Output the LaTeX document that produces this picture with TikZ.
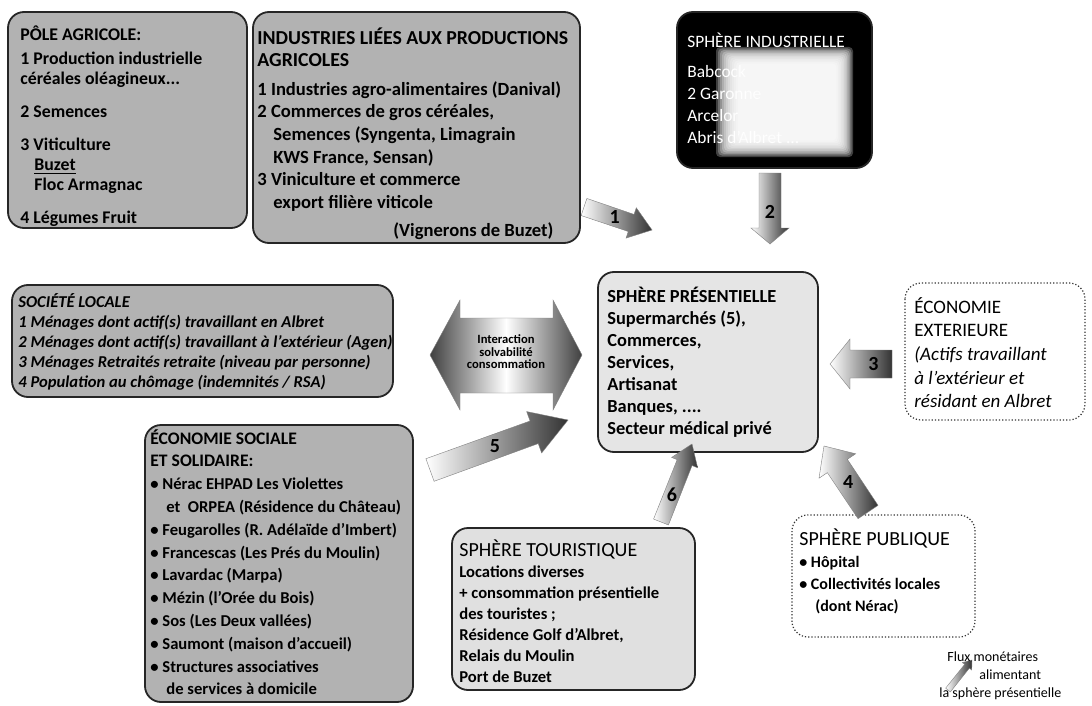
\documentclass[tikz,border=0pt]{standalone}
\usepackage{fontspec}
\setmainfont{Carlito}
\usetikzlibrary{calc}

\tikzset{
  boite/.style={draw=black!85, line width=0.9pt, rounded corners=8pt, fill=black!30},
  boiteblanche/.style={draw=black!80, densely dotted, line width=0.6pt, rounded corners=8pt, fill=white},
  texte/.style={anchor=north west, inner sep=0pt, align=left, font=\bfseries\fontsize{9.2}{11}\selectfont},
  fluxfond/.style={draw=black!50, very thin, left color=white, right color=black!80},
  numflux/.style={inner sep=0pt, font=\bfseries\fontsize{10}{10}\selectfont},
}

% fleche de flux : nom, queue, pointe, demi-largeurs tige/tete, longueur tete, position du numero
\def\flux[#1](#2)(#3)(#4:#5:#6)(#7)#8{%
  \coordinate (#1q) at (#2);
  \coordinate (#1p) at (#3);
  \coordinate (#1b) at ($(#1p)!#6!(#1q)$);
  \shade[fluxfond] ($(#1q)!#4!90:(#1p)$) -- ($(#1b)!#4!90:(#1p)$) -- ($(#1b)!#5!90:(#1p)$) -- (#1p)
    -- ($(#1b)!#5!-90:(#1p)$) -- ($(#1b)!#4!-90:(#1p)$) -- ($(#1q)!#4!-90:(#1p)$) -- cycle;
  \node[numflux] (#1) at ($(#1q)!#7!(#1p)$) {#8};
}

\begin{document}
\begin{tikzpicture}[x=0.5pt, y=-0.5pt]
			%%%%% CADRE %%%%%
			\path[use as bounding box, fill=white] (0,0) rectangle (1092,706);
			
			%%%%% PRODUCTIONS %%%%%
			\draw[boite] (8,12) rectangle (247,228);
			\node[texte, font=\bfseries\fontsize{8.9}{10}\selectfont] (agricole) at (20,25) {PÔLE AGRICOLE:\\[2pt]
				1 Production industrielle\\
				céréales oléagineux...\\[6.5pt]
				2 Semences\\[6.5pt]
				3 Viticulture\\
				\hspace*{7pt}\underline{Buzet}\\
				\hspace*{7pt}Floc Armagnac\\[6.5pt]
				4 Légumes Fruit};
			
			\draw[boite] (253,12) rectangle (580,243);
			\node[texte, font=\bfseries\fontsize{9.3}{11.3}\selectfont] (industries) at (257,27) {{\fontsize{9.9}{11.3}\selectfont INDUSTRIES LIÉES AUX PRODUCTIONS}\\
				{\fontsize{9.9}{11.3}\selectfont AGRICOLES}\\[3pt]
				1 Industries agro-alimentaires (Danival)\\
				2 Commerces de gros céréales,\\
				\hspace*{8pt}Semences (Syngenta, Limagrain\\
				\hspace*{8pt}KWS France, Sensan)\\
				3 Viniculture et commerce\\
				\hspace*{8pt}export filière viticole\\[3pt]
				\hspace*{68pt}(Vignerons de Buzet)};
			
			\draw[boite, fill=black] (677,12) rectangle (872,168);
			\node[texte, text=white, font=\fontsize{8.7}{11}\selectfont] (industrielle) at (687,33) {SPHÈRE INDUSTRIELLE\\[4pt]
				Babcock\\
				2 Garonne\\
				Arcelor\\
				Abris d’Albret ...};
			\foreach \i in {0,...,11}
				\fill[white, opacity=0.25, rounded corners=2pt] (716+2*\i,47+1.5*\i) rectangle (853-1.5*\i,157-1.5*\i);
			
			%%%%% SOCIETE LOCALE %%%%%
			\draw[boite] (12,285) rectangle (393,397);
			\node[texte, font=\bfseries\itshape\fontsize{8.3}{10}\selectfont] (locale) at (18,293) {SOCIÉTÉ LOCALE\\
				1 Ménages dont actif(s) travaillant en Albret\\
				2 Ménages dont actif(s) travaillant à l’extérieur (Agen)\\
				3 Ménages Retraités retraite (niveau par personne)\\
				4 Population au chômage (indemnités / RSA)};
			
			\shade[draw=black!50, very thin, left color=black!75, right color=black!75, middle color=white]
				(430,355) -- (460,300) -- (460,318) -- (553,318) -- (553,300) -- (582,355)
				-- (553,410) -- (553,393) -- (460,393) -- (460,410) -- cycle;
			\node[align=center, inner sep=0pt, font=\bfseries\fontsize{6.3}{6.2}\selectfont] (interaction) at (506,352) {Interaction\\solvabilité\\consommation};
			
			%%%%% SPHERE PRESENTIELLE %%%%%
			\draw[boite, fill=black!10] (598,272) rectangle (818,452);
			\node[texte] (presentielle) at (607,287) {SPHÈRE PRÉSENTIELLE\\
				Supermarchés (5),\\
				Commerces,\\
				Services,\\
				Artisanat\\
				Banques, ....\\
				Secteur médical privé};
			
			\draw[boiteblanche] (905,283) rectangle (1085,420);
			\node[texte, font=\fontsize{9.5}{11.8}\selectfont] (exterieure) at (914,297) {ÉCONOMIE\\
				EXTERIEURE\\
				\textit{(Actifs travaillant}\\
				\textit{à l’extérieur et}\\
				\textit{résidant en Albret}};
			
			%%%%% ECONOMIE SOCIALE %%%%%
			\draw[boite] (145,425) rectangle (413,702);
			\node[texte, font=\bfseries\fontsize{8.3}{11.4}\selectfont] (sociale) at (150,429) {{\fontsize{8.8}{11.4}\selectfont ÉCONOMIE SOCIALE}\\
				{\fontsize{8.8}{11.4}\selectfont ET SOLIDAIRE:}\\
				• Nérac EHPAD Les Violettes\\
				\hspace*{8pt}et~~ORPEA (Résidence du Château)\\
				• Feugarolles (R. Adélaïde d’Imbert)\\
				• Francescas (Les Prés du Moulin)\\
				• Lavardac (Marpa)\\
				• Mézin (l’Orée du Bois)\\
				• Sos (Les Deux vallées)\\
				• Saumont (maison d’accueil)\\
				• Structures associatives\\
				\hspace*{8pt}de services à domicile};
			
			\draw[boite, fill=black!12] (452,528) rectangle (695,690);
			\node[texte, font=\bfseries\fontsize{8.3}{10.5}\selectfont] (touristique) at (459,539) {{\mdseries\fontsize{10}{10.5}\selectfont SPHÈRE TOURISTIQUE}\\
				Locations diverses\\
				+ consommation présentielle\\
				des touristes ;\\
				Résidence Golf d’Albret,\\
				Relais du Moulin\\
				Port de Buzet};
			
			\draw[boiteblanche] (792,515) rectangle (975,637);
			\node[texte, font=\bfseries\fontsize{8}{11}\selectfont] (publique) at (799,528) {{\mdseries\fontsize{10}{11}\selectfont SPHÈRE PUBLIQUE}\\
				• Hôpital\\
				• Collectivités locales\\
				\hspace*{8pt}(dont Nérac)};
			
			%%%%% FLUX %%%%%
			\flux[f1](584,207)(652,230)(4.5pt:8pt:11pt)(0.45){1}
			\flux[f2](770,173)(770,244)(5.5pt:9.5pt:8pt)(0.55){2}
			\flux[f3](892,364)(830,364)(7pt:12.5pt:10pt)(0.3){3}
			\flux[f4](868,512)(824,446)(6pt:11pt:12pt)(0.45){4}
			\flux[f5](430,470)(568,420)(6pt:11pt:18pt)(0.47){5}
			\flux[f6](661,522)(692,444)(4pt:7pt:10pt)(0.35){6}
			
			%%%%% LEGENDE %%%%%
			\flux[fl](948,690)(972,660)(1.5pt:3pt:4pt)(0.5){}
			\node[texte, font=\fontsize{7}{9}\selectfont] (legende) at (947,651) {Flux monétaires\\
				\hspace*{16pt}alimentant\\
				\hspace*{-4pt}la sphère présentielle};
			
\end{tikzpicture}
\end{document}
